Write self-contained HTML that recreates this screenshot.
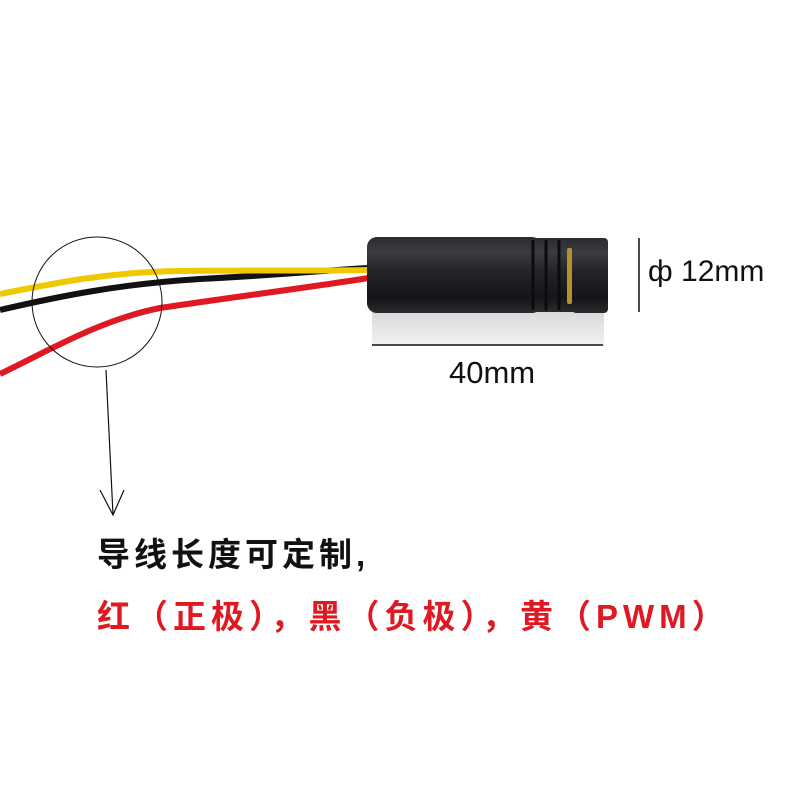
<!DOCTYPE html>
<html><head><meta charset="utf-8"><style>
html,body{margin:0;padding:0;background:#fff;width:800px;height:800px;overflow:hidden}
.t{position:absolute;font-family:"Liberation Sans","Noto Sans CJK SC",sans-serif;font-weight:bold;white-space:nowrap}
</style></head><body>
<svg width="800" height="800" style="position:absolute;left:0;top:0">
<defs>
<linearGradient id="cyl" x1="0" y1="0" x2="0" y2="1">
<stop offset="0" stop-color="#2a2c30"/><stop offset="0.2" stop-color="#3a3c42"/><stop offset="0.45" stop-color="#222428"/><stop offset="0.8" stop-color="#141518"/><stop offset="1" stop-color="#2a2b2e"/>
</linearGradient>
<linearGradient id="sh" x1="0" y1="0" x2="0" y2="1"><stop offset="0" stop-color="#d8d8d8"/><stop offset="1" stop-color="#f2f2f2"/></linearGradient>
</defs>
<rect x="372" y="310" width="232" height="36" fill="url(#sh)"/>
<line x1="372" y1="345" x2="603" y2="345" stroke="#111" stroke-width="1.5"/>
<path d="M0,310 C60,296 120,284 200,279 C280,275 330,270 368,268" stroke="#111" stroke-width="6" fill="none"/>
<path d="M0,294 C60,282 110,272 180,271 C260,270 320,271 368,270" stroke="#f0c800" stroke-width="6" fill="none"/>
<path d="M0,374 C50,350 100,320 160,308 C240,296 320,286 368,278" stroke="#e01822" stroke-width="6" fill="none"/>
<rect x="367" y="237" width="175" height="76" rx="10" fill="url(#cyl)"/>
<rect x="527" y="238" width="50" height="74" fill="url(#cyl)"/>
<line x1="533" y1="240" x2="533" y2="310" stroke="#0c0c0c" stroke-width="3"/>
<line x1="546" y1="240" x2="546" y2="310" stroke="#0c0c0c" stroke-width="3"/>
<line x1="559" y1="240" x2="559" y2="310" stroke="#0c0c0c" stroke-width="3"/>
<rect x="567" y="248" width="5" height="56" rx="2" fill="#b8902a"/>
<rect x="572" y="238" width="36" height="75" rx="4" fill="url(#cyl)"/>
<line x1="639" y1="238" x2="639" y2="312" stroke="#111" stroke-width="1.5"/>
<circle cx="97" cy="302" r="65" fill="none" stroke="#111" stroke-width="1"/>
<line x1="106" y1="370" x2="113" y2="515" stroke="#111" stroke-width="1.2"/>
<path d="M100,490 L113,515 L124,490" stroke="#111" stroke-width="1.2" fill="none"/>
</svg>
<div class="t" style="left:648px;top:255px;font-size:30px;font-weight:normal;color:#111">ф 12mm</div>
<div class="t" style="left:449px;top:355px;font-size:31px;font-weight:normal;color:#111">40mm</div>
<div class="t" style="left:97px;top:528px;font-size:33px;color:#111;letter-spacing:4px">导线长度可定制,</div>
<div class="t" style="left:97px;top:590px;font-size:33px;color:#e01822;letter-spacing:5px">红（正极），黑（负极），黄（PWM）</div>
</body></html>
